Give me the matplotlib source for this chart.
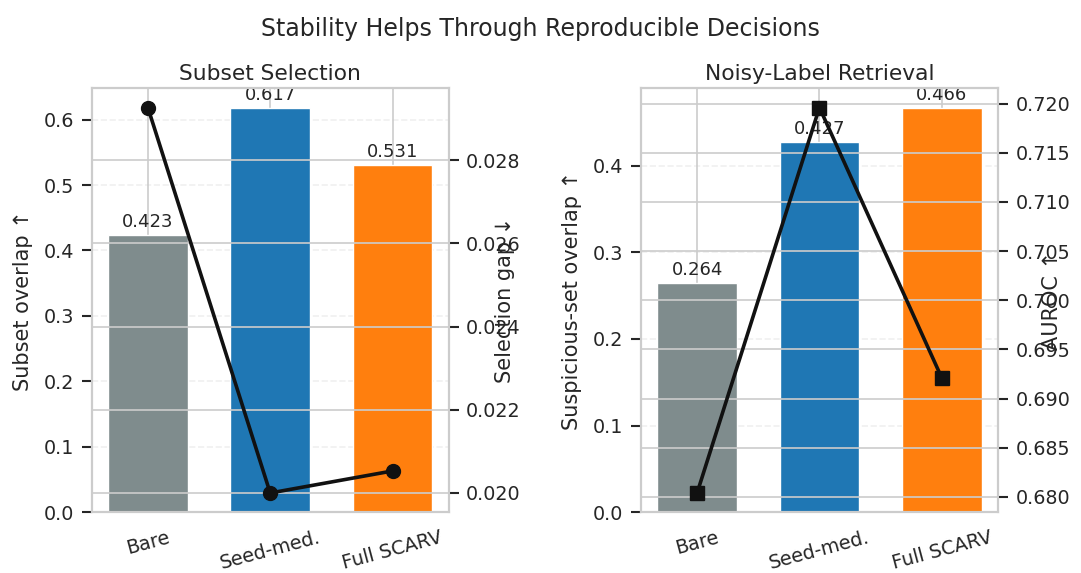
import matplotlib
matplotlib.use('Agg')
import matplotlib.pyplot as plt
import seaborn as sns

methods = ['Bare', 'Seed-med.', 'Full SCARV']
bar_colors = ['#7f8c8d', '#1f77b4', '#ff7f0e']

# Subset selection panel
subset_overlap = [0.423, 0.617, 0.531]
selection_gap = [0.02927, 0.0200, 0.02053]

# Noisy-label panel
suspicious_overlap = [0.264, 0.427, 0.466]
auroc = [0.6804, 0.7196, 0.6921]

sns.set_theme(style='whitegrid')
plt.rcParams['font.family'] = ['DejaVu Sans']
plt.rcParams['axes.linewidth'] = 1.5
plt.rcParams['grid.linewidth'] = 1.2

fig, axes = plt.subplots(1, 2, figsize=(10.81, 5.73), dpi=100)
fig.subplots_adjust(left=0.085, right=0.923, top=0.846, bottom=0.106, wspace=0.54)

panels = [
    (axes[0], subset_overlap, selection_gap, 'o', 'Subset Selection',
     'Subset overlap ↑', 'Selection gap ↓', 1.13),
    (axes[1], suspicious_overlap, auroc, 's', 'Noisy-Label Retrieval',
     'Suspicious-set overlap ↑', 'AUROC ↑', 1.125),
]

for ax, bars_vals, line_vals, mk, title, ylab, ylab2, lx in panels:
    bars = ax.bar(methods, bars_vals, color=bar_colors, width=0.65)
    ax.bar_label(bars, fmt='%.3f', padding=3, fontsize=13, color='#262626')
    ax.set_title(title, fontsize=15.7, color='#262626')
    ax.set_ylabel(ylab, fontsize=15, labelpad=8)
    ax.grid(axis='y', linestyle='--', alpha=0.3)
    ax.tick_params(axis='y', left=True, length=7.2, width=1.5, pad=5.5, labelsize=13.8)
    ax.tick_params(axis='x', labelsize=13.8, labelrotation=15, pad=5.5)

    ax2 = ax.twinx()
    ax2.plot(methods, line_vals, color='#111111', marker=mk, markersize=10, linewidth=2.6)
    ax2.set_ylabel(ylab2, fontsize=15)
    ax2.yaxis.set_label_coords(lx, 0.5)
    ax2.tick_params(axis='y', right=True, length=7.2, width=1.5, pad=5.5, labelsize=13.8)

fig.suptitle('Stability Helps Through Reproducible Decisions', fontsize=17, y=0.97)
fig.savefig('out.png', dpi=100)
